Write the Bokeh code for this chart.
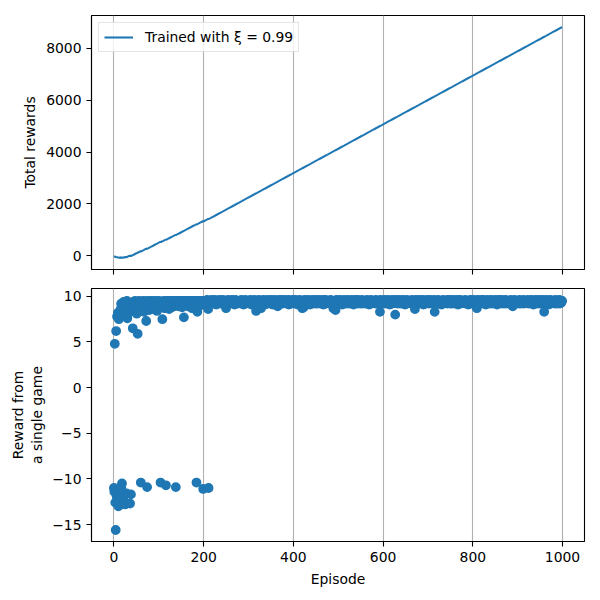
import numpy as np
from bokeh.plotting import figure
from bokeh.layouts import column
from bokeh.models import Range1d, FixedTicker, CustomJSTickFormatter
from bokeh.embed import file_html
from bokeh.resources import INLINE

# Reward obtained in each single game (episode 0..999)
rewards = [
    -11.0, -11.4, 4.8, -12.6, -15.6, 6.2, -11.9, 7.8, -12.4, 8.2, -13.0, 7.5, -11.0, -11.5, 8.0, 8.6, 9.2, -11.1, -10.5, 8.9,
    8.4, -12.1, 9.4, 7.9, 8.8, -12.8, 9.1, 8.3, -11.6, 9.5, 7.6, 8.7, 9.0, 8.2, 9.3, 8.5, -12.7, 8.8, -11.7, 9.0,
    9.2, 8.6, 6.5, 9.4, 8.9, 9.1, 8.4, 9.5, 9.0, 8.7, 9.3, 8.1, 9.4, 5.9, 9.2, 8.8, 9.5, 8.5, 9.1, 9.3,
    -10.4, 9.4, 8.9, 9.2, 8.6, 9.5, 9.0, 8.3, 9.4, 9.1, 8.8, 9.3, 7.3, 9.5, -10.9, 9.2, 8.7, 9.4, 9.0, 8.5,
    9.3, 9.5, 8.8, 9.2, 9.4, 8.9, 9.1, 9.5, 8.6, 9.3, 9.0, 9.4, 8.7, 9.2, 9.5, 9.1, 8.4, 9.3, 9.4, 9.0,
    9.2, 9.5, 8.9, 9.3, -10.4, 9.4, 9.1, 8.8, 7.5, 9.4, 9.2, 9.5, 9.0, 8.7, 9.3, 9.4, -10.7, 9.1, 9.5, 8.9,
    9.3, 9.5, 9.1, 8.6, 9.4, 9.2, 9.5, 9.0, 9.3, 8.8, 9.4, 9.5, 9.1, 9.3, 8.9, 9.4, 9.2, 9.5, -10.9, 9.3,
    9.4, 9.1, 9.5, 9.3, 8.9, 9.4, 9.5, 9.2, 9.0, 9.4, 9.5, 9.3, 8.8, 9.4, 9.2, 9.5, 7.7, 9.3, 9.4, 9.1,
    9.5, 9.3, 9.0, 9.4, 9.5, 9.2, 8.9, 9.4, 9.5, 9.3, 9.1, 9.4, 9.5, 9.2, 8.7, 9.4, 9.5, 9.3, 9.0, 9.4,
    9.5, 9.2, 9.4, 9.3, -10.4, 9.5, 8.3, 9.4, 9.2, 9.5, 9.3, 9.4, 9.0, 9.5, 9.3, 9.4, 9.1, 9.5, 9.3, -11.1,
    9.4, 9.3, 9.5, 9.2, 9.4, 9.5, 9.3, 9.4, 9.6, 9.2, 8.6, -11.0, 9.5, 9.4, 9.3, 9.5, 9.2, 9.4, 9.6, 9.3,
    9.5, 9.3, 9.4, 9.2, 9.5, 9.6, 9.3, 9.4, 9.1, 9.5, 9.4, 9.3, 9.5, 9.2, 9.4, 9.6, 9.3, 9.5, 9.4, 9.2,
    9.4, 9.5, 9.3, 9.6, 9.2, 9.4, 9.5, 9.3, 9.4, 9.1, 8.7, 9.5, 9.4, 9.3, 9.6, 9.2, 9.4, 9.5, 9.3, 9.4,
    9.5, 9.3, 9.4, 9.6, 9.2, 9.5, 9.4, 9.3, 9.5, 9.1, 9.4, 9.6, 9.3, 9.4, 9.5, 9.2, 9.4, 9.3, 9.5, 9.4,
    9.3, 9.5, 9.4, 9.2, 9.6, 9.4, 9.3, 9.5, 9.4, 9.1, 9.5, 9.3, 9.4, 9.6, 9.2, 9.5, 9.4, 9.3, 9.4, 9.5,
    9.4, 9.2, 9.5, 9.3, 9.6, 9.4, 9.5, 9.1, 9.4, 9.3, 9.5, 9.4, 9.2, 9.6, 9.3, 9.4, 9.5, 8.4, 9.4, 9.3,
    9.5, 9.4, 9.2, 9.6, 9.3, 9.4, 9.5, 9.3, 8.7, 9.4, 9.5, 9.2, 9.4, 9.6, 9.3, 9.5, 9.4, 9.1, 9.4, 9.5,
    9.3, 9.4, 9.6, 9.2, 9.5, 9.4, 9.3, 9.5, 9.4, 9.2, 9.6, 9.3, 9.4, 9.5, 9.1, 9.4, 9.5, 9.3, 9.6, 9.4,
    9.2, 9.5, 9.4, 9.3, 9.5, 8.9, 9.4, 9.6, 9.3, 9.4, 9.5, 9.2, 9.4, 9.3, 9.6, 9.5, 9.4, 9.2, 9.5, 9.3,
    9.4, 9.6, 9.3, 9.5, 9.4, 9.2, 9.5, 9.3, 9.4, 9.6, 9.1, 9.4, 9.5, 9.3, 9.4, 9.5, 9.2, 9.4, 9.6, 9.3,
    9.5, 9.4, 9.3, 9.2, 9.5, 9.6, 9.4, 9.3, 9.5, 9.4, 9.1, 9.5, 9.3, 9.4, 9.6, 9.2, 9.4, 9.5, 9.3, 9.4,
    8.7, 9.5, 9.3, 8.8, 9.4, 9.6, 9.2, 9.5, 9.3, 9.4, 9.5, 9.2, 9.4, 9.6, 9.3, 9.5, 9.4, 9.1, 9.4, 9.5,
    9.3, 9.4, 9.6, 9.2, 9.5, 9.4, 9.3, 9.5, 9.4, 9.2, 9.6, 9.3, 9.4, 9.5, 9.2, 9.4, 9.5, 9.3, 9.6, 9.4,
    9.2, 9.5, 9.4, 9.3, 9.5, 9.4, 9.6, 9.1, 9.4, 9.5, 9.3, 9.4, 9.6, 9.2, 9.5, 9.3, 9.4, 9.5, 9.3, 9.4,
    9.5, 9.3, 9.4, 9.6, 9.2, 9.5, 9.4, 9.3, 9.5, 8.7, 9.4, 9.3, 9.5, 9.2, 8.5, 9.4, 9.6, 9.3, 9.4, 9.5,
    9.3, 9.4, 9.5, 9.2, 9.6, 9.4, 9.3, 9.5, 9.4, 9.1, 9.5, 9.3, 9.4, 9.6, 9.2, 9.5, 9.4, 9.3, 9.5, 9.4,
    9.2, 9.6, 9.4, 9.3, 9.5, 9.4, 9.2, 9.5, 9.3, 9.4, 9.6, 9.3, 9.5, 9.4, 9.1, 9.4, 9.5, 9.3, 9.6, 9.4,
    9.3, 9.5, 9.4, 9.2, 9.6, 9.4, 9.5, 9.3, 9.4, 9.2, 9.5, 9.4, 9.3, 9.6, 9.2, 9.4, 9.5, 9.3, 9.4, 9.5,
    9.4, 9.2, 9.5, 9.3, 9.6, 9.4, 9.3, 9.5, 9.4, 9.1, 9.5, 9.3, 9.4, 9.6, 9.2, 9.5, 9.4, 9.3, 9.5, 9.4,
    9.3, 9.5, 9.4, 9.2, 9.6, 9.4, 9.3, 9.5, 9.2, 9.4, 9.5, 9.3, 9.4, 8.3, 9.6, 9.2, 9.4, 9.5, 9.3, 9.4,
    9.5, 9.4, 9.3, 9.6, 9.2, 9.5, 9.4, 9.3, 9.5, 9.4, 9.2, 9.6, 9.4, 9.3, 9.5, 9.1, 9.4, 9.5, 9.3, 9.4,
    9.6, 9.2, 9.5, 9.4, 9.3, 9.5, 9.4, 8.0, 9.6, 9.3, 9.4, 9.5, 9.2, 9.4, 9.5, 9.3, 9.6, 9.4, 9.2, 9.5,
    9.4, 9.3, 9.5, 9.2, 9.6, 9.4, 9.3, 9.5, 9.4, 9.1, 9.5, 9.3, 9.4, 9.6, 9.2, 9.5, 9.4, 9.3, 9.5, 9.4,
    9.3, 9.5, 9.4, 9.2, 9.6, 9.4, 9.3, 9.5, 9.2, 9.4, 9.5, 8.6, 9.4, 9.6, 9.3, 9.5, 9.4, 9.2, 9.5, 9.3,
    9.4, 9.6, 9.3, 9.5, 9.4, 9.2, 9.5, 9.3, 9.4, 9.6, 9.1, 9.4, 9.5, 9.3, 9.4, 9.5, 9.2, 9.4, 9.6, 9.3,
    9.5, 9.4, 9.3, 9.2, 9.5, 9.6, 9.4, 9.3, 9.5, 9.4, 9.2, 9.5, 9.3, 9.4, 9.6, 8.3, 9.4, 9.5, 9.3, 9.4,
    9.5, 9.3, 9.4, 9.6, 9.2, 9.5, 9.4, 9.3, 9.5, 9.4, 9.1, 9.5, 9.3, 9.4, 9.6, 9.2, 9.4, 9.5, 9.3, 9.4,
    9.3, 9.5, 9.4, 9.2, 9.6, 9.4, 9.3, 9.5, 9.4, 9.2, 9.6, 9.3, 9.4, 9.5, 9.2, 9.4, 9.5, 9.3, 9.6, 9.4,
    9.2, 9.5, 9.4, 9.3, 9.5, 9.4, 9.6, 9.1, 9.4, 9.5, 9.3, 9.4, 9.6, 9.2, 9.5, 9.3, 9.4, 9.5, 9.3, 9.4,
    9.5, 9.3, 9.4, 9.6, 9.2, 9.5, 9.4, 9.3, 9.5, 9.4, 9.1, 9.4, 9.5, 9.3, 9.6, 9.4, 9.2, 9.5, 9.3, 9.4,
    9.4, 9.6, 9.3, 9.5, 9.2, 9.4, 9.5, 9.3, 9.4, 8.7, 9.6, 9.3, 9.4, 9.5, 9.2, 9.4, 9.5, 9.3, 9.6, 9.4,
    9.3, 9.5, 9.4, 9.2, 9.6, 9.4, 9.3, 9.5, 9.4, 9.1, 9.5, 9.3, 9.4, 9.6, 9.2, 9.5, 9.4, 9.3, 9.5, 9.4,
    9.2, 9.6, 9.4, 9.3, 9.5, 9.4, 9.2, 9.5, 9.3, 9.4, 9.6, 9.3, 9.5, 9.4, 9.1, 9.4, 9.5, 9.3, 9.6, 9.4,
    9.3, 9.5, 9.4, 9.2, 9.6, 9.4, 9.5, 9.3, 9.4, 9.2, 9.5, 9.4, 9.3, 9.6, 9.2, 9.4, 9.5, 9.3, 9.4, 9.5,
    9.4, 9.2, 9.5, 9.3, 9.6, 9.4, 9.3, 9.5, 9.4, 8.9, 9.5, 9.3, 9.4, 9.6, 9.2, 9.5, 9.4, 9.3, 9.5, 9.4,
    9.3, 9.5, 9.4, 9.2, 9.6, 9.4, 9.3, 9.5, 9.2, 9.4, 9.5, 9.3, 9.4, 9.6, 9.2, 9.5, 9.4, 9.3, 9.5, 9.4,
    9.5, 9.4, 9.3, 9.6, 9.2, 9.5, 9.4, 9.3, 9.5, 9.4, 9.2, 9.6, 9.4, 9.3, 9.5, 9.1, 9.4, 9.5, 9.3, 9.4,
    9.6, 9.2, 9.5, 9.4, 9.3, 9.5, 9.4, 9.2, 9.6, 9.3, 9.4, 9.5, 9.2, 9.4, 9.5, 9.3, 9.6, 9.4, 9.2, 8.3,
    9.4, 9.3, 9.5, 9.2, 9.6, 9.4, 9.3, 9.5, 9.4, 9.1, 9.5, 9.3, 9.4, 9.6, 9.2, 9.5, 9.4, 9.3, 9.5, 9.4,
    9.3, 9.5, 9.4, 9.2, 9.6, 9.4, 9.3, 9.5, 9.2, 9.4, 9.5, 9.3, 9.4, 9.6, 9.2, 9.5, 9.4, 9.3, 9.5, 9.5,
]
episodes = list(range(len(rewards)))
total_rewards = np.cumsum(rewards)          # running total of the rewards above

x_ticks = [0, 200, 400, 600, 800, 1000]
top_y_ticks = [0, 2000, 4000, 6000, 8000]
bottom_y_ticks = [-15, -10, -5, 0, 5, 10]
legend_text = "Trained with \u03be = 0.99"

BLUE = "#1f77b4"
FONT = "DejaVu Sans"
FS = "13.9px"


def padded(lo, hi):
    m = 0.05 * (hi - lo)
    return lo - m, hi + m


minus_fmt = CustomJSTickFormatter(code="""
    return tick < 0 ? "\\u2212" + Math.abs(tick) : String(tick);
""")
blank_fmt = CustomJSTickFormatter(code="return '';")

x_range = Range1d(*padded(min(episodes), max(episodes)))


def style(p):
    p.outline_line_color = "black"
    p.outline_line_alpha = 1.0
    p.outline_line_width = 1.1
    p.background_fill_color = "white"
    p.border_fill_color = "white"
    p.ygrid.visible = False
    p.xgrid.grid_line_color = "#b0b0b0"
    p.xgrid.grid_line_width = 1.1
    for ax in (p.xaxis[0], p.yaxis[0]):
        ax.axis_line_color = "black"
        ax.axis_line_width = 1.1
        ax.major_tick_line_color = "black"
        ax.major_tick_line_width = 1.1
        ax.major_tick_out = 5
        ax.major_tick_in = 0
        ax.minor_tick_line_color = None
        ax.major_label_text_font = FONT
        ax.major_label_text_font_size = FS
        ax.major_label_text_color = "black"
        ax.major_label_standoff = 5
        ax.axis_label_text_font = FONT
        ax.axis_label_text_font_size = FS
        ax.axis_label_text_font_style = "normal"
        ax.axis_label_text_color = "black"
    p.xaxis.ticker = FixedTicker(ticks=x_ticks)


# ---- top panel: cumulative reward ----
p1 = figure(frame_width=493, frame_height=254, x_range=x_range,
            y_range=Range1d(*padded(float(total_rewards.min()), float(total_rewards.max()))),
            output_backend="svg", toolbar_location=None,
            min_border_left=91, min_border_right=16, min_border_top=15, min_border_bottom=10)
p1.line(episodes, total_rewards, line_color=BLUE, line_width=2.1, legend_label=legend_text)
style(p1)
p1.yaxis.ticker = FixedTicker(ticks=top_y_ticks)
p1.yaxis.axis_label = "Total rewards"
p1.yaxis.axis_label_standoff = 5
p1.xaxis.formatter = blank_fmt
p1.xaxis.major_label_standoff = 0

lg = p1.legend[0]
lg.location = "top_left"
lg.margin = 7
lg.padding = 5
lg.spacing = 0
lg.glyph_width = 29
lg.glyph_height = 18
lg.label_height = 18
lg.label_standoff = 12
lg.label_text_font = FONT
lg.label_text_font_size = FS
lg.label_text_color = "black"
lg.border_line_color = "#cccccc"
lg.border_line_width = 1
lg.background_fill_alpha = 0.8

# ---- bottom panel: reward per game ----
p2 = figure(frame_width=493, frame_height=253, x_range=x_range,
            y_range=Range1d(*padded(min(rewards), max(rewards))),
            output_backend="svg", toolbar_location=None,
            min_border_left=91, min_border_right=16, min_border_top=9, min_border_bottom=59)
p2.scatter(episodes, rewards, size=8.3, fill_color=BLUE, line_color=BLUE, line_width=1.5)
style(p2)
p2.yaxis.ticker = FixedTicker(ticks=bottom_y_ticks)
p2.yaxis.formatter = minus_fmt
p2.yaxis.axis_label = "Reward from\na single game"
p2.yaxis.axis_label_standoff = 4
p2.xaxis.axis_label = "Episode"
p2.xaxis.axis_label_standoff = 6

layout = column(p1, p2, spacing=0)
open("out.html", "w").write(file_html(layout, INLINE))
